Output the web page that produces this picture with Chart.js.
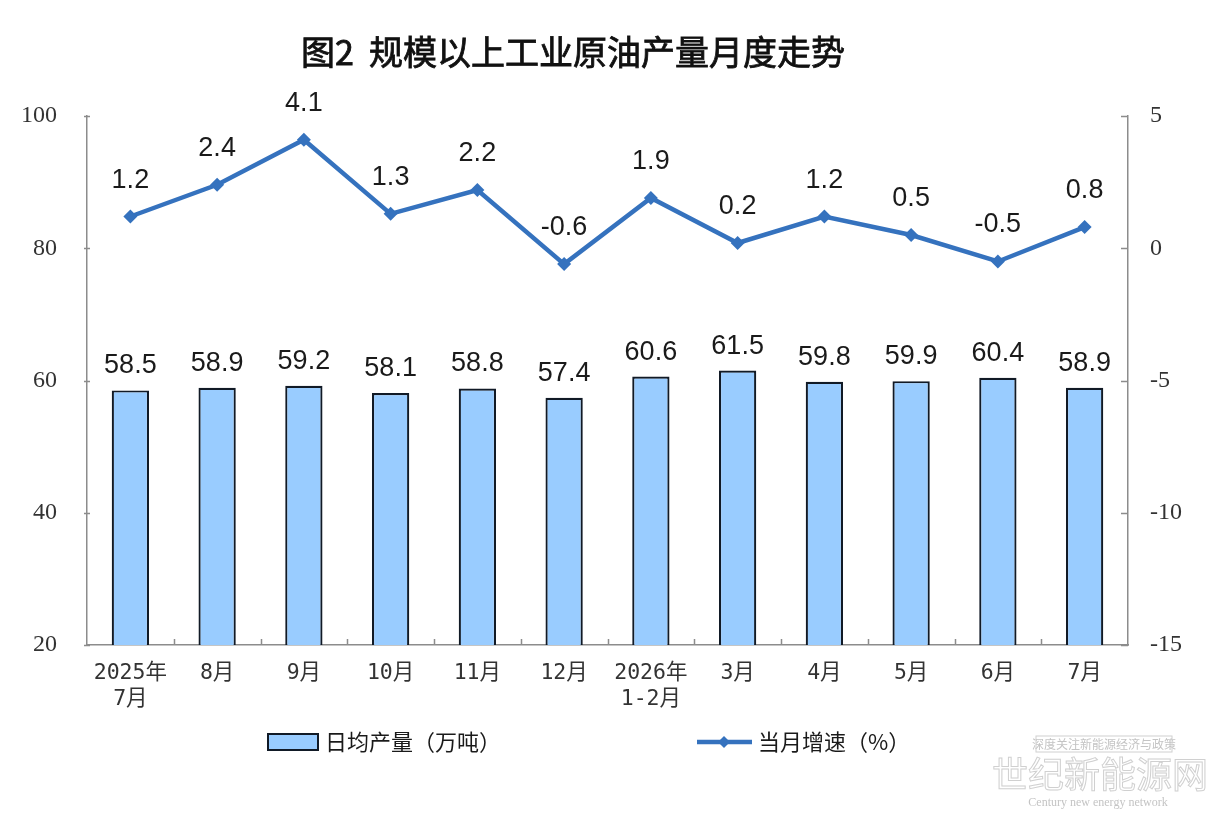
<!DOCTYPE html>
<html>
<head>
<meta charset="utf-8">
<script src="https://cdn.jsdelivr.net/npm/chart.js@4/dist/chart.umd.min.js"></script>
<style>
html,body{margin:0;padding:0;background:#fff;}
#wrap{position:relative;width:1220px;height:813px;}
</style>
</head>
<body>
<div id="wrap"><canvas id="c"></canvas></div>
<script>
const chartTitle = '图2  规模以上工业原油产量月度走势';
const categories = [['2025年','7月'],'8月','9月','10月','11月','12月',['2026年','1-2月'],'3月','4月','5月','6月','7月'];
const dailyOutput = [58.5,58.9,59.2,58.1,58.8,57.4,60.6,61.5,59.8,59.9,60.4,58.9];
const monthlyGrowth = [1.2,2.4,4.1,1.3,2.2,-0.6,1.9,0.2,1.2,0.5,-0.5,0.8];
const seriesNames = ['日均产量（万吨）','当月增速（%）'];
const leftTicks = {min:20,max:100,step:20};
const rightTicks = {min:-15,max:5,step:5};

const BAR_FILL = '#99CCFF';
const BAR_EDGE = '#111a26';
const LINE_COL = '#3572BE';
const AXIS_COL = '#8c8c8c';

const decor = {
  id:'decor',
  afterDatasetsDraw(chart){
    const ctx = chart.ctx;
    const ca = chart.chartArea;
    const xs = chart.scales.x, yl = chart.scales.y, yr = chart.scales.y1;
    ctx.save();
    ctx.strokeStyle = AXIS_COL; ctx.lineWidth = 1.5;
    ctx.beginPath();
    for(let i=1;i<categories.length;i++){
      const x = Math.round((xs.getPixelForValue(i-1)+xs.getPixelForValue(i))/2)+0.5;
      ctx.moveTo(x, ca.bottom); ctx.lineTo(x, ca.bottom-6);
    }
    yl.ticks.forEach(t=>{ const y=Math.round(yl.getPixelForValue(t.value))+0.5; ctx.moveTo(ca.left-3,y); ctx.lineTo(ca.left+3,y); });
    yr.ticks.forEach(t=>{ const y=Math.round(yr.getPixelForValue(t.value))+0.5; ctx.moveTo(ca.right-7,y); ctx.lineTo(ca.right,y); });
    ctx.stroke();
    ctx.fillStyle = '#1a1a1a';
    ctx.font = '27px "Liberation Sans", Arial, sans-serif';
    ctx.textAlign = 'center'; ctx.textBaseline = 'alphabetic';
    const mb = chart.getDatasetMeta(0);
    mb.data.forEach((el,i)=>{ ctx.fillText(dailyOutput[i].toFixed(1), el.x, el.y-17); });
    const ml = chart.getDatasetMeta(1);
    ml.data.forEach((el,i)=>{ ctx.fillText(monthlyGrowth[i].toFixed(1), el.x, el.y-29); });
    ctx.restore();
  },
  afterDraw(chart){
    const ctx = chart.ctx;
    ctx.save();
    ctx.fillStyle = '#111'; ctx.strokeStyle = '#111'; ctx.lineWidth = 0.8;
    ctx.font = '400 34px "Noto Sans CJK SC", sans-serif';
    ctx.textAlign = 'center'; ctx.textBaseline = 'middle';
    ctx.fillText(chartTitle, 573, 52);
    ctx.strokeText(chartTitle, 573, 52);
    const ly = 742;
    ctx.fillStyle = BAR_FILL; ctx.strokeStyle = BAR_EDGE; ctx.lineWidth = 2;
    ctx.fillRect(268, ly-8, 50, 16); ctx.strokeRect(268, ly-8, 50, 16);
    ctx.fillStyle = '#1a1a1a';
    ctx.font = '22px "Noto Sans CJK SC", sans-serif';
    ctx.textAlign = 'left'; ctx.textBaseline = 'middle';
    ctx.fillText(seriesNames[0], 325, ly);
    ctx.strokeStyle = LINE_COL; ctx.lineWidth = 4.5;
    ctx.beginPath(); ctx.moveTo(697, ly); ctx.lineTo(752, ly); ctx.stroke();
    ctx.fillStyle = LINE_COL;
    ctx.beginPath(); ctx.moveTo(724, ly-6); ctx.lineTo(730, ly); ctx.lineTo(724, ly+6); ctx.lineTo(718, ly); ctx.closePath(); ctx.fill();
    ctx.fillStyle = '#1a1a1a';
    ctx.fillText(seriesNames[1], 758, ly);
    // watermark
    ctx.strokeStyle = '#d0d0d0'; ctx.lineWidth = 1;
    ctx.font = '36px "Noto Sans CJK SC", serif';
    ctx.textAlign = 'center';
    ctx.strokeText('世纪新能源网', 1100, 774);
    ctx.fillStyle = '#c4c4c4';
    ctx.font = '12px "Noto Sans CJK SC", sans-serif';
    ctx.fillText('深度关注新能源经济与政策', 1104, 744);
    ctx.strokeRect(1036, 736, 136, 16);
    ctx.font = '12px "Liberation Serif", serif';
    ctx.fillText('Century new energy network', 1098, 803);
    ctx.restore();
  }
};

new Chart(document.getElementById('c'), {
  data:{
    labels: categories,
    datasets:[
      {type:'bar', label:seriesNames[0], data:dailyOutput, yAxisID:'y',
       backgroundColor:BAR_FILL, borderColor:BAR_EDGE, borderWidth:2.2, borderSkipped:false,
       barPercentage:0.43, categoryPercentage:1.0, order:2},
      {type:'line', label:seriesNames[1], data:monthlyGrowth, yAxisID:'y1',
       borderColor:LINE_COL, backgroundColor:LINE_COL, borderWidth:4.5, tension:0,
       pointStyle:'rectRot', pointRadius:7, pointHoverRadius:7, pointBorderWidth:0, order:1}
    ]
  },
  options:{
    responsive:true, maintainAspectRatio:false, animation:false,
    layout:{padding:{top:116,left:0,right:0,bottom:0}},
    plugins:{legend:{display:false}, title:{display:false}, tooltip:{enabled:false}},
    scales:{
      x:{
        offset:true,
        grid:{display:false, drawTicks:false},
        border:{display:true, color:AXIS_COL, width:1.5},
        ticks:{color:'#333', padding:15, maxRotation:0, autoSkip:false,
               font:{family:'"DejaVu Sans Mono", "Noto Sans CJK SC", monospace', size:21.5, lineHeight:1.22}},
        afterFit(s){ s.height = 168; }
      },
      y:{
        position:'left', min:leftTicks.min, max:leftTicks.max,
        grid:{display:false, drawTicks:false},
        border:{display:true, color:AXIS_COL, width:1.5},
        ticks:{stepSize:leftTicks.step, color:'#333', padding:30,
               font:{family:'"Liberation Serif", "Times New Roman", serif', size:24}},
        afterFit(s){ s.width = 87; }
      },
      y1:{
        position:'right', min:rightTicks.min, max:rightTicks.max,
        grid:{display:false, drawTicks:false},
        border:{display:true, color:AXIS_COL, width:1.5},
        ticks:{stepSize:rightTicks.step, color:'#333', padding:22,
               font:{family:'"Liberation Serif", "Times New Roman", serif', size:24}},
        afterFit(s){ s.width = 92; }
      }
    }
  },
  plugins:[decor]
});
</script>
</body>
</html>
